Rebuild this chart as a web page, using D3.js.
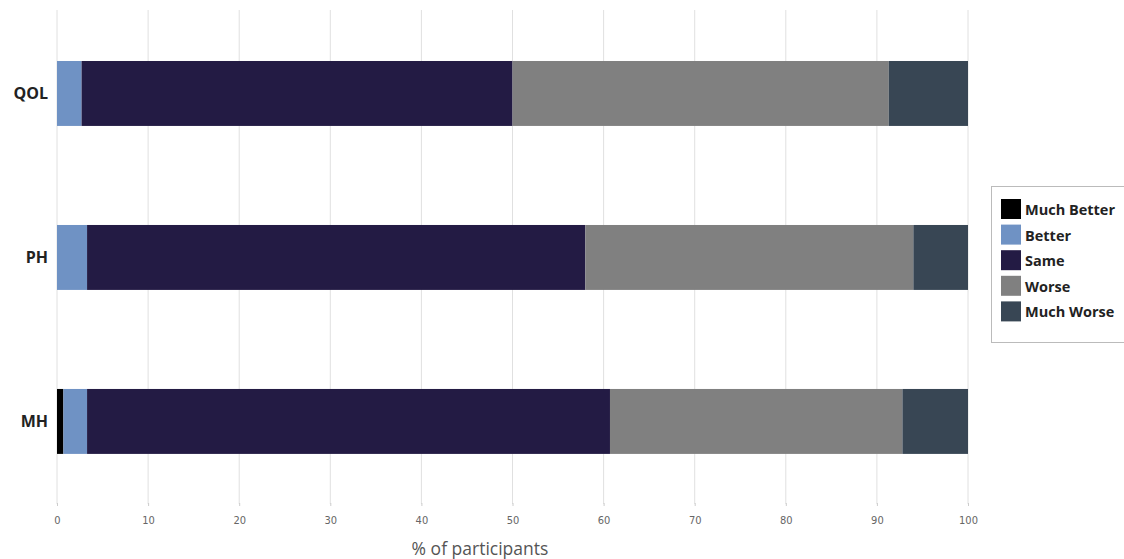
<!DOCTYPE html>
<html><head><meta charset="utf-8">
<script src="https://cdn.jsdelivr.net/npm/d3@7"></script>
<style>body{margin:0;background:#fff}svg{display:block}</style>
</head><body>
<svg id="c" width="1124" height="559"></svg>
<script>
const categories = ["QOL", "PH", "MH"];
const seriesNames = ["Much Better", "Better", "Same", "Worse", "Much Worse"];
const muchBetter = [0, 0, 0.7];
const better = [2.7, 3.3, 2.6];
const same = [47.3, 54.7, 57.4];
const worse = [41.3, 36.0, 32.1];
const muchWorse = [8.7, 6.0, 7.2];
const tickValues = [0, 10, 20, 30, 40, 50, 60, 70, 80, 90, 100];
const colors = ["#000000", "#6f92c4", "#231b44", "#808080", "#384654"];

const rows = categories.map((c, i) => ({
  cat: c, "Much Better": muchBetter[i], "Better": better[i], "Same": same[i],
  "Worse": worse[i], "Much Worse": muchWorse[i]
}));
const stacked = d3.stack().keys(seriesNames)(rows);

const svg = d3.select("#c");
const x = d3.scaleLinear().domain([0, 100]).range([57, 968]);
const y = d3.scaleBand().domain(categories).range([3.6, 511.3]).paddingInner(0.604).paddingOuter(0.35);

// gridlines
svg.append("g").selectAll("line").data(tickValues).join("line")
  .attr("x1", d => x(d)).attr("x2", d => x(d))
  .attr("y1", 10).attr("y2", 504)
  .attr("stroke", "#e0e0e0").attr("stroke-width", 1);

// bars
svg.append("g").selectAll("g").data(stacked).join("g")
  .attr("fill", (d, i) => colors[i])
  .selectAll("rect").data(d => d).join("rect")
  .attr("x", d => x(d[0])).attr("width", d => x(d[1]) - x(d[0]))
  .attr("y", d => y(d.data.cat)).attr("height", y.bandwidth());

// x axis
const xa = svg.append("g").attr("transform", "translate(0,503)")
  .call(d3.axisBottom(x).tickValues(tickValues).tickSize(3).tickPadding(10));
xa.select(".domain").remove();
xa.selectAll(".tick line").attr("stroke", "#ccc");
xa.selectAll(".tick text").attr("fill", "#666").attr("font-size", 11)
  .attr("font-family", "'Liberation Sans Narrow','DejaVu Sans Condensed',sans-serif");

svg.append("text").attr("x", 480).attr("y", 555).attr("text-anchor", "middle")
  .attr("font-family", "'Open Sans',sans-serif").attr("font-size", 17.5).attr("fill", "#555")
  .text("% of participants");

// y labels
svg.append("g").selectAll("text").data(categories).join("text")
  .attr("x", 48).attr("y", d => y(d) + y.bandwidth() / 2).attr("dy", "0.35em")
  .attr("text-anchor", "end").attr("font-family", "'Open Sans',sans-serif")
  .attr("font-weight", "bold").attr("font-size", 16).attr("fill", "#222")
  .text(d => d);

// legend
const lg = svg.append("g");
lg.append("rect").attr("x", 991.5).attr("y", 186.5).attr("width", 140).attr("height", 156)
  .attr("fill", "#fff").attr("stroke", "#bbb");
const items = lg.selectAll("g").data(seriesNames).join("g")
  .attr("transform", (d, i) => `translate(1001,${199 + i * 25.6})`);
items.append("rect").attr("width", 20).attr("height", 20).attr("fill", (d, i) => colors[i]);
items.append("text").attr("x", 24).attr("y", 11).attr("dy", "0.35em")
  .attr("font-family", "'Open Sans',sans-serif").attr("font-weight", "bold")
  .attr("font-size", 14.5).attr("fill", "#222").text(d => d);
</script>
</body></html>
